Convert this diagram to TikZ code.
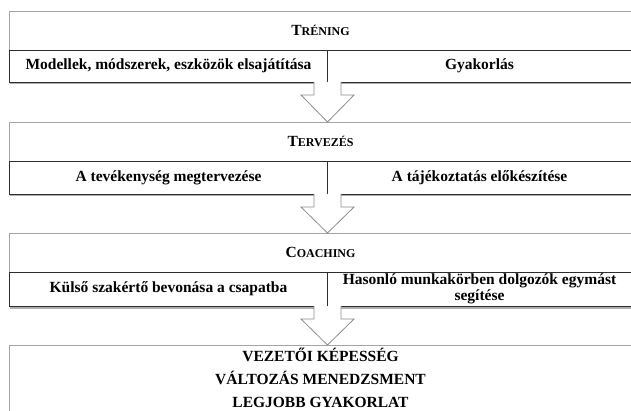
\documentclass[tikz,border=0pt]{standalone}
\usepackage{fontspec}
\setmainfont{Liberation Serif}
\usepackage{tikz}
\usetikzlibrary{positioning,calc,shadows}
\definecolor{HDgrey}{RGB}{165,165,165}
\definecolor{CLdark}{RGB}{45,45,45}
\definecolor{ARgrey}{RGB}{140,140,140}
\newcommand\fakesc[2]{{\fontsize{15.5}{17}\selectfont #1}{\fontsize{12}{14}\selectfont #2}}

\begin{document}
\begin{tikzpicture}[
      x=1pt,y=-1pt,
      head/.style={draw=HDgrey,fill=white,minimum width=622pt,minimum height=39pt,inner sep=0pt,outer sep=0pt,font=\bfseries},
      cell/.style={draw=CLdark,line width=0.9pt,fill=white,minimum height=32pt,inner sep=0pt,outer sep=0pt,align=center,
        font=\bfseries\fontsize{15.5}{16}\selectfont,
        drop shadow={shadow xshift=0pt,shadow yshift=-2.5pt,fill=black!70,opacity=.45}},
      result/.style={minimum width=622pt,minimum height=66pt,inner sep=0pt,outer sep=0pt,align=center,
        font=\bfseries\fontsize{15.5}{23}\selectfont},
      frame/.style={draw=HDgrey,line width=0.9pt},
      barrow/.style={draw=ARgrey,fill=white,line width=0.8pt,line join=miter}
    ]
    \useasboundingbox (0,0) rectangle (631,411);
    % training
    \node[head] (trening) at (320.5,30.5) {\fakesc{T}{RÉNING}};
    \node[cell,minimum width=318pt,below right=0pt and 0pt of trening.south west] (modell) {Modellek, módszerek, eszközök elsajátítása};
    \node[cell,minimum width=304pt,right=0pt of modell] (gyak) {Gyakorlás};
    % planning
    \node[head,below right=40pt and 0pt of modell.south west] (tervezes) {\fakesc{T}{ERVEZÉS}};
    \node[cell,minimum width=318pt,minimum height=33pt,below right=0pt and 0pt of tervezes.south west] (tevek) {A tevékenység megtervezése};
    \node[cell,minimum width=304pt,minimum height=33pt,right=0pt of tevek] (tajek) {A tájékoztatás előkészítése};
    % coaching
    \node[head,below right=39pt and 0pt of tevek.south west] (coaching) {\fakesc{C}{OACHING}};
    \node[cell,minimum width=318pt,minimum height=34pt,below right=0pt and 0pt of coaching.south west] (kulso) {Külső szakértő bevonása a csapatba};
    \node[cell,minimum width=304pt,minimum height=34pt,right=0pt of kulso] (hason) {Hasonló munkakörben dolgozók egymást\\segítése};
    % result (box runs past the lower edge)
    \node[result,below right=39pt and 0pt of kulso.south west] (eredmeny) {VEZETŐI KÉPESSÉG\\VÁLTOZÁS MENEDZSMENT\\LEGJOBB GYAKORLAT};
    \draw[frame] (eredmeny.north west) rectangle ++(622,90);
    % block arrows
    \foreach \a/\b in {modell/tervezes,tevek/coaching,kulso/eredmeny}
      \draw[barrow] ($(\a.south east)+(-13.5,0)$) -- ++(0,13) -- ++(-13,0) -- (\b.north -| \a.south east)
        -- ($(\a.south east)+(26.5,13)$) -- ++(-13,0) -- ($(\a.south east)+(13.5,0)$);
  \end{tikzpicture}
\end{document}
